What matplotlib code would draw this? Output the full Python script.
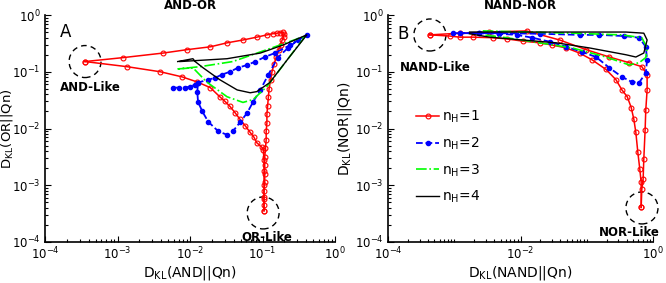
import numpy as np
import matplotlib
matplotlib.use("Agg")
import matplotlib.pyplot as plt
from matplotlib.patches import Ellipse
from matplotlib.ticker import LogLocator, NullFormatter

# values stored as log10 of D_KL
# ---- panel A: AND-OR ----
a_red_up_x = [-3.45, -2.92, -2.37, -2.04, -1.72, -1.49, -1.27, -1.08, -0.94, -0.86, -0.80, -0.76,
              -0.72, -0.70, -0.71, -0.73, -0.75, -0.78, -0.81, -0.84, -0.87, -0.89, -0.91, -0.92,
              -0.93, -0.94, -0.94, -0.95, -0.95, -0.96, -0.97, -0.97, -0.97, -0.97, -0.98, -0.98,
              -0.98, -0.98]
a_red_up_y = [-0.82, -0.75, -0.67, -0.61, -0.56, -0.49, -0.44, -0.39, -0.35, -0.33, -0.32, -0.31,
              -0.30, -0.33, -0.38, -0.44, -0.52, -0.62, -0.74, -0.86, -1.00, -1.15, -1.30, -1.45,
              -1.60, -1.75, -1.90, -2.05, -2.20, -2.35, -2.50, -2.65, -2.80, -2.95, -3.10, -3.25,
              -3.35, -3.45]
a_red_lo_x = [-3.45, -2.87, -2.41, -2.11, -1.90, -1.72, -1.59, -1.52, -1.45, -1.38, -1.31, -1.24,
              -1.17, -1.12, -1.08, -1.01, -0.99, -0.98, -0.98, -0.98, -0.98, -0.98]
a_red_lo_y = [-0.82, -0.91, -1.00, -1.09, -1.18, -1.28, -1.44, -1.52, -1.61, -1.72, -1.84, -1.95,
              -2.07, -2.15, -2.25, -2.33, -2.37, -2.55, -2.75, -3.00, -3.20, -3.45]
a_blue_x = [-2.23, -2.15, -2.07, -2.00, -1.93, -1.89, -1.90, -1.89, -1.83, -1.75, -1.61, -1.49,
            -1.41, -1.31, -1.21, -1.13, -1.03, -0.92, -0.79, -0.65, -0.51, -0.39, -0.62, -0.83,
            -0.97, -1.10, -1.21, -1.34, -1.45, -1.56, -1.66, -1.75, -1.89]
a_blue_y = [-1.28, -1.28, -1.28, -1.26, -1.23, -1.19, -1.35, -1.53, -1.70, -1.88, -2.05, -2.11,
            -2.05, -1.89, -1.72, -1.53, -1.32, -1.05, -0.75, -0.58, -0.44, -0.35, -0.53, -0.67,
            -0.74, -0.82, -0.88, -0.93, -1.00, -1.05, -1.11, -1.14, -1.19]
a_green_x = [-2.17, -1.96, -1.77, -1.49, -1.27, -1.13, -0.94, -0.66, -0.41, -0.94, -1.41, -1.86, -2.17]
a_green_y = [-0.95, -0.93, -1.18, -1.44, -1.54, -1.49, -1.26, -0.79, -0.37, -0.61, -0.82, -0.91, -0.95]
a_black_x = [-2.17, -1.96, -1.93, -1.82, -1.59, -1.35, -1.17, -1.08, -0.90, -0.66, -0.39, -0.72,
             -1.03, -1.49, -2.14]
a_black_y = [-0.82, -0.77, -0.82, -0.93, -1.14, -1.32, -1.37, -1.35, -1.19, -0.79, -0.35, -0.53,
             -0.67, -0.77, -0.82]

# ---- panel B: NAND-NOR ----
b_red_out_x = [-3.37, -3.07, -2.92, -2.72, -2.42, -2.21, -1.97, -1.71, -1.52, -1.31, -1.11, -0.92,
               -0.71, -0.56, -0.47, -0.39, -0.33, -0.29, -0.26, -0.23, -0.20, -0.18, -0.18]
b_red_out_y = [-0.35, -0.37, -0.39, -0.39, -0.40, -0.42, -0.46, -0.49, -0.53, -0.58, -0.67, -0.79,
               -0.96, -1.14, -1.32, -1.44, -1.63, -1.84, -2.07, -2.42, -2.72, -2.95, -3.39]
b_red_in_x = [-3.37, -2.92, -2.47, -1.91, -1.41, -1.01, -0.66, -0.36, -0.17, -0.09, -0.09, -0.11,
              -0.12, -0.14, -0.15, -0.17, -0.18]
b_red_in_y = [-0.35, -0.32, -0.30, -0.28, -0.44, -0.61, -0.74, -0.84, -0.91, -1.05, -1.32, -1.67,
              -2.02, -2.54, -2.89, -3.07, -3.39]
b_blue_x = [-3.02, -2.62, -2.32, -1.71, -1.11, -0.81, -0.44, -0.21, -0.11, -0.09, -0.11, -0.21,
            -0.32, -0.47, -0.66, -0.86, -1.07, -1.31, -1.56, -1.82, -2.06, -2.32, -2.62, -2.92]
b_blue_y = [-0.32, -0.32, -0.32, -0.33, -0.35, -0.35, -0.37, -0.40, -0.56, -0.79, -1.02, -1.19,
            -1.18, -1.09, -0.93, -0.74, -0.65, -0.56, -0.47, -0.40, -0.35, -0.33, -0.32, -0.32]
b_green_x = [-2.57, -1.22, -0.47, -0.17, -0.09, -0.11, -0.21, -0.36, -0.71, -1.22, -1.71, -2.21, -2.57]
b_green_y = [-0.28, -0.32, -0.35, -0.40, -0.58, -0.75, -0.84, -0.88, -0.74, -0.58, -0.49, -0.40, -0.35]
b_black_x = [-2.77, -1.91, -0.41, -0.14, -0.09, -0.14, -0.26, -0.41, -0.96, -1.46, -1.97, -2.47, -2.77]
b_black_y = [-0.30, -0.30, -0.30, -0.32, -0.44, -0.67, -0.74, -0.70, -0.58, -0.49, -0.44, -0.39, -0.33]

legend_labels = ['n$_\\mathregular{H}$=1', 'n$_\\mathregular{H}$=2',
                 'n$_\\mathregular{H}$=3', 'n$_\\mathregular{H}$=4']

fig = plt.figure(figsize=(6.66, 2.83), dpi=100)
axA = fig.add_axes([0.0676, 0.1449, 0.4355, 0.802])
axB = fig.add_axes([0.5826, 0.1449, 0.398, 0.802])

red_kw = dict(color='red', lw=1.1, marker='o', ms=3.5, mfc='none', mew=0.8)
blue_kw = dict(color='blue', lw=1.3, ls='--', marker='.', ms=6)
green_kw = dict(color=(0, 1, 0), lw=1.2, ls='-.')
black_kw = dict(color='black', lw=1.0, ls='-')

def lg(v):
    return 10 ** np.array(v)

axA.plot(lg(a_red_up_x), lg(a_red_up_y), **red_kw)
axA.plot(lg(a_red_lo_x), lg(a_red_lo_y), **red_kw)
axA.plot(lg(a_blue_x), lg(a_blue_y), **blue_kw)
axA.plot(lg(a_green_x), lg(a_green_y), **green_kw)
axA.plot(lg(a_black_x), lg(a_black_y), **black_kw)

hr, = axB.plot(lg(b_red_out_x), lg(b_red_out_y), **red_kw)
axB.plot(lg(b_red_in_x), lg(b_red_in_y), **red_kw)
hb, = axB.plot(lg(b_blue_x), lg(b_blue_y), **blue_kw)
hg, = axB.plot(lg(b_green_x), lg(b_green_y), **green_kw)
hk, = axB.plot(lg(b_black_x), lg(b_black_y), **black_kw)

for ax in (axA, axB):
    ax.set_xscale('log')
    ax.set_yscale('log')
    ax.set_xlim(1e-4, 1)
    ax.set_ylim(1e-4, 1)
    ax.spines['top'].set_visible(False)
    ax.spines['right'].set_visible(False)
    ax.spines['left'].set_linewidth(1.2)
    ax.spines['bottom'].set_linewidth(1.2)
    ax.tick_params(which='both', direction='in', labelsize=8.5, width=0.8, pad=3)
    ax.tick_params(which='major', length=4)
    ax.tick_params(which='minor', length=2)
    ax.yaxis.set_major_locator(LogLocator(base=10, numticks=10))
    ax.yaxis.set_minor_locator(LogLocator(base=10, subs=np.arange(2, 10), numticks=10))
    ax.yaxis.set_minor_formatter(NullFormatter())

axA.xaxis.set_major_locator(LogLocator(base=10, numticks=10))
axA.xaxis.set_minor_locator(LogLocator(base=10, subs=np.arange(2, 10), numticks=10))
axA.xaxis.set_minor_formatter(NullFormatter())
axB.set_xticks([1e-4, 1e-2, 1])
axB.xaxis.set_minor_locator(LogLocator(base=10, subs=np.arange(1, 10), numticks=10))
axB.xaxis.set_minor_formatter(NullFormatter())

axA.set_title('AND-OR', fontsize=8.5, fontweight='bold', pad=4)
axB.set_title('NAND-NOR', fontsize=8.5, fontweight='bold', pad=4)
axA.set_xlabel('D$_\\mathregular{KL}$(AND||Qn)', fontsize=10, labelpad=1)
axA.set_ylabel('D$_\\mathregular{KL}$(OR||Qn)', fontsize=9.5)
axA.yaxis.set_label_coords(-0.105, 0.5)
axB.set_xlabel('D$_\\mathregular{KL}$(NAND||Qn)', fontsize=10, labelpad=1)
axB.set_ylabel('D$_\\mathregular{KL}$(NOR||Qn)', fontsize=10, labelpad=1)

# dashed circles around the extreme gates
def circ(ax, x, y, w, h):
    e = Ellipse((x, y), w, h, transform=ax.transAxes, fill=False,
                ls=(0, (4, 3)), lw=1.0, color='black', clip_on=False)
    ax.add_patch(e)

circ(axA, 0.138, 0.795, 0.11, 0.141)
circ(axA, 0.752, 0.128, 0.11, 0.141)
circ(axB, 0.158, 0.912, 0.121, 0.141)
circ(axB, 0.958, 0.150, 0.121, 0.141)

axA.text(0.155, 0.68, 'AND-Like', transform=axA.transAxes, fontsize=8.5,
         fontweight='bold', ha='center', va='center')
axA.text(0.765, 0.022, 'OR-Like', transform=axA.transAxes, fontsize=8.5,
         fontweight='bold', ha='center', va='center')
axA.text(0.07, 0.925, 'A', transform=axA.transAxes, fontsize=12, ha='center', va='center')
axB.text(0.18, 0.77, 'NAND-Like', transform=axB.transAxes, fontsize=8.5,
         fontweight='bold', ha='center', va='center')
axB.text(1.025, 0.04, 'NOR-Like', transform=axB.transAxes, fontsize=8.5,
         fontweight='bold', ha='right', va='center')
axB.text(0.055, 0.915, 'B', transform=axB.transAxes, fontsize=12, ha='center', va='center')

axB.legend([hr, hb, hg, hk], legend_labels, loc='upper left', bbox_to_anchor=(0.094, 0.60),
           frameon=False, fontsize=10, handlelength=1.7, handletextpad=0.2,
           labelspacing=0.75, borderpad=0.2, borderaxespad=0)

fig.savefig('out.png', dpi=100)
